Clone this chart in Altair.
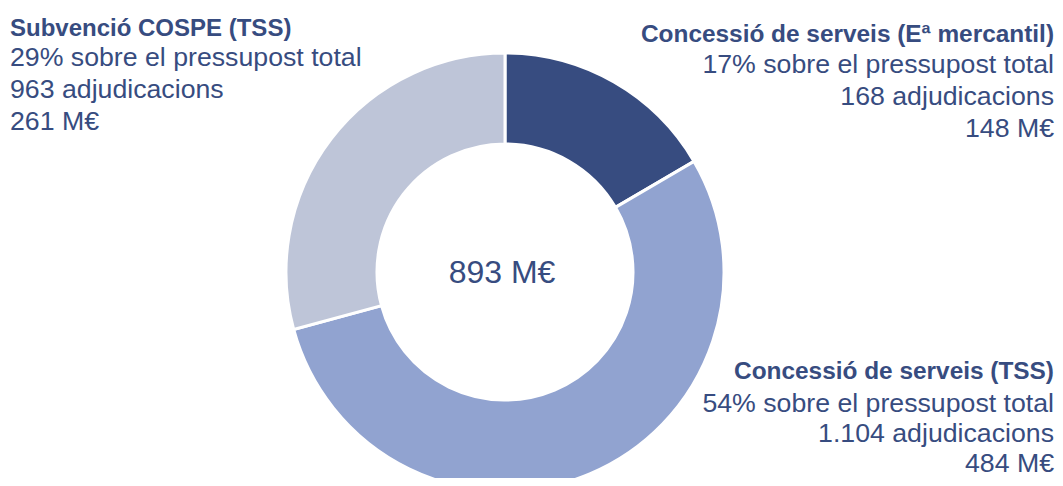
import altair as alt
import pandas as pd

# ---- data ----
categories = ["Concessió de serveis (Eª mercantil)", "Concessió de serveis (TSS)", "Subvenció COSPE (TSS)"]
imports_meur = [148, 484, 261]
percents = [17, 54, 29]
adjudicacions = ["168", "1.104", "963"]
total_label = "893 M€"
colors = ["#374C80", "#91A3D0", "#BEC5D8"]
text_color = "#374C80"

df = pd.DataFrame({
    "cat": categories,
    "value": imports_meur,
    "ord": [0, 1, 2],
    "body": [[f"{p}% sobre el pressupost total", f"{a} adjudicacions", f"{v} M€"]
             for p, a, v in zip(percents, adjudicacions, imports_meur)],
})

FONT = "Liberation Sans"

arc = alt.Chart(df).mark_arc(
    outerRadius=219, innerRadius=128, stroke="white", strokeWidth=3
).encode(
    theta=alt.Theta("value:Q", stack=True),
    color=alt.Color("cat:N", scale=alt.Scale(domain=categories, range=colors), legend=None),
    order=alt.Order("ord:Q"),
    x=alt.value(497),
    y=alt.value(264),
)

center = alt.Chart(pd.DataFrame({"t": [total_label]})).mark_text(
    font=FONT, fontSize=32, color=text_color, align="center", baseline="alphabetic"
).encode(text="t:N", x=alt.value(494), y=alt.value(275))


def block(cat, x, align, ytitle, ybody, lh, tsize):
    base = alt.Chart(df).transform_filter(alt.datum.cat == cat)
    t = base.mark_text(font=FONT, fontSize=tsize, fontWeight="bold", color=text_color,
                       align=align, baseline="alphabetic").encode(
        text="cat:N", x=alt.value(x), y=alt.value(ytitle))
    b = base.mark_text(font=FONT, fontSize=26.7, color=text_color, lineHeight=lh,
                       align=align, baseline="alphabetic").encode(
        text="body:N", x=alt.value(x), y=alt.value(ybody))
    return t + b


left = block(categories[2], 2, "left", 28, 58, 32, 24)
right_top = block(categories[0], 1046, "right", 34, 65, 32, 24.4)
right_bot = block(categories[1], 1046, "right", 371, 404, 30, 24.4)

chart = alt.layer(arc, center, left, right_top, right_bot).properties(
    width=1047, height=470, padding=0, autosize=alt.AutoSizeParams(type="none")
).configure_view(stroke=None)

chart.save("out.html", embed_options={"renderer": "svg", "actions": False})
